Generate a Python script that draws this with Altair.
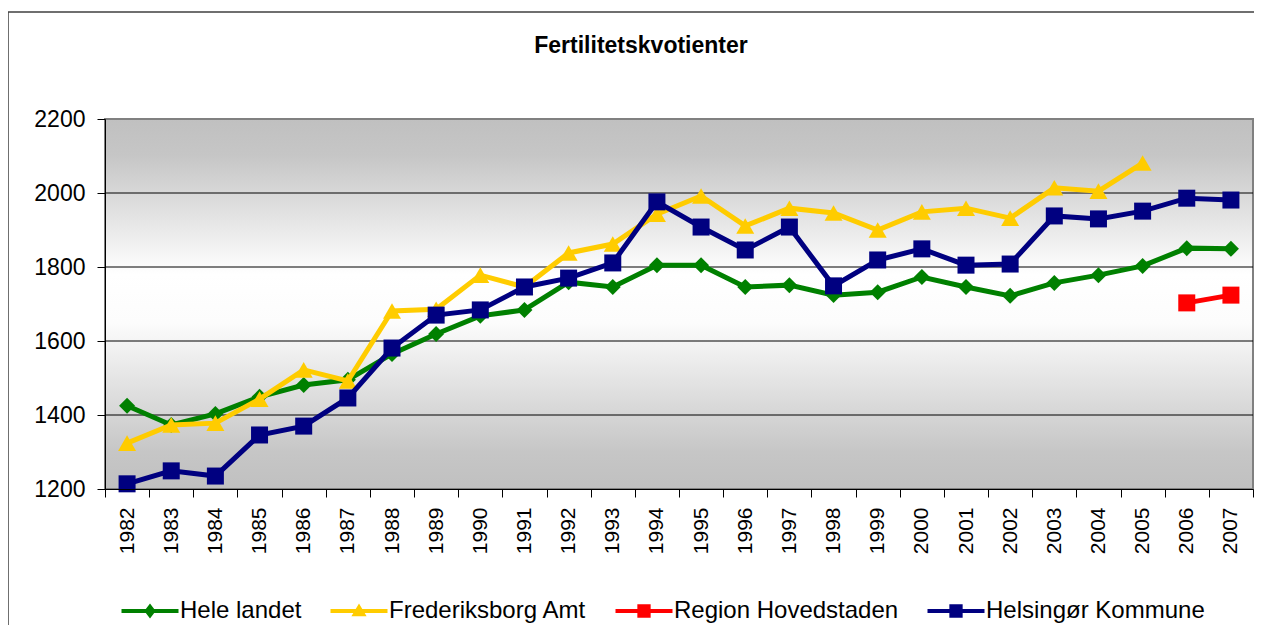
import altair as alt
import pandas as pd

years = ["1982", "1983", "1984", "1985", "1986", "1987", "1988", "1989", "1990",
         "1991", "1992", "1993", "1994", "1995", "1996", "1997", "1998", "1999",
         "2000", "2001", "2002", "2003", "2004", "2005", "2006", "2007"]

hele_landet = [1425, 1373, 1403, 1449, 1481, 1495, 1565, 1619, 1668, 1684, 1759, 1746, 1805,
               1805, 1746, 1751, 1724, 1732, 1773, 1746, 1722, 1757, 1778, 1803, 1851, 1849]
frederiksborg = [1324, 1373, 1378, 1443, 1522, 1492, 1681, 1686, 1778, 1746, 1838, 1862, 1943,
                 1992, 1911, 1959, 1946, 1900, 1949, 1959, 1932, 2014, 2005, 2081, None, None]
region_hovedstaden = [None] * 24 + [1703, 1724]
helsingor = [1214, 1249, 1235, 1346, 1370, 1446, 1581, 1670, 1684, 1746, 1770, 1811, 1976,
             1908, 1846, 1908, 1749, 1819, 1849, 1805, 1808, 1938, 1930, 1951, 1986, 1981]

series_names = ["Hele landet", "Frederiksborg Amt", "Region Hovedstaden", "Helsingør Kommune"]
series_values = [hele_landet, frederiksborg, region_hovedstaden, helsingor]
series_colors = ["#008000", "#FFCC00", "#FF0000", "#000080"]
marker_shapes = ["diamond", "triangle-up", "square", "square"]
marker_sizes = [256, 324, 289, 289]
legend_paths = [
    "M-3,-0.22H3V0.22H-3Z M0,-0.8L0.6,0L0,0.8L-0.6,0Z",
    "M-3,-0.22H3V0.22H-3Z M0,-0.8L0.8,0.55L-0.8,0.55Z",
    "M-3,-0.22H3V0.22H-3Z M-0.7,-0.7H0.7V0.7H-0.7Z",
    "M-3,-0.22H3V0.22H-3Z M-0.7,-0.7H0.7V0.7H-0.7Z",
]
y_ticks = [1200, 1400, 1600, 1800, 2000, 2200]
grid_values = [1400, 1600, 1800, 2000]
title_text = "Fertilitetskvotienter"

rows = []
for name, vals in zip(series_names, series_values):
    for yr, v in zip(years, vals):
        if v is not None:
            rows.append({"series": name, "year": yr, "value": v})
df = pd.DataFrame(rows)

W, H = 1148, 370
FONT = "Liberation Sans"

x_enc = alt.X(
    "year:O",
    sort=years,
    bandPosition=0.5,
    scale=alt.Scale(type="band", domain=years, paddingInner=0, paddingOuter=0),
    axis=alt.Axis(
        title=None, labelAngle=-90, labelFont=FONT, labelFontSize=21, labelColor="black",
        tickBand="extent", tickSize=8, tickColor="black", domainColor="black",
        labelPadding=10, grid=False, zindex=1,
    ),
)
y_enc = alt.Y(
    "value:Q",
    scale=alt.Scale(domain=[1200, 2200], nice=False, zero=False),
    axis=alt.Axis(
        title=None, values=y_ticks, format="d", labelFont=FONT, labelFontSize=23,
        labelColor="black", tickSize=8, tickColor="black", domainColor="black",
        labelPadding=12, grid=False, zindex=1,
    ),
)

one = pd.DataFrame({"a": [0]})

background = alt.Chart(one).mark_rect(
    color=alt.Gradient(
        gradient="linear",
        stops=[
            alt.GradientStop(color="#c0c0c0", offset=0),
            alt.GradientStop(color="#c6c6c6", offset=0.1),
            alt.GradientStop(color="#ffffff", offset=0.42),
            alt.GradientStop(color="#fcfcfc", offset=0.55),
            alt.GradientStop(color="#c6c6c6", offset=0.9),
            alt.GradientStop(color="#c0c0c0", offset=1),
        ],
        x1=0, x2=0, y1=0, y2=1,
    ),
    stroke="#808080",
    strokeWidth=2,
).encode(x=alt.value(0), x2=alt.value(W), y=alt.value(0), y2=alt.value(H))

grid = alt.Chart(pd.DataFrame({"value": grid_values})).mark_rule(
    color="black", strokeWidth=1
).encode(y=y_enc)

layers = [background, grid]
for name, color, shp, sz in zip(series_names, series_colors, marker_shapes, marker_sizes):
    base = alt.Chart(df).transform_filter(alt.datum.series == name)
    layers.append(base.mark_line(color=color, strokeWidth=5).encode(x=x_enc, y=y_enc))
    layers.append(base.mark_point(shape=shp, filled=True, size=sz, color=color, opacity=1)
                  .encode(x=x_enc, y=y_enc))

leg = alt.Legend(
    title=None, orient="none", legendX=33, legendY=480, direction="horizontal",
    symbolSize=361, symbolStrokeWidth=0, symbolOpacity=1,
    labelFont=FONT, labelFontSize=24, labelColor="black", labelLimit=500,
    labelOffset=18, columnPadding=28, padding=0,
)
legend_layer = alt.Chart(df).mark_point(filled=True, opacity=1).encode(
    shape=alt.Shape("series:N", scale=alt.Scale(domain=series_names, range=legend_paths), legend=leg),
    fill=alt.Fill("series:N", scale=alt.Scale(domain=series_names, range=series_colors), legend=leg),
).transform_filter("datum.value < 0")
layers.append(legend_layer)

frame = alt.Chart(one).mark_rect(fillOpacity=0, stroke="#404040", strokeWidth=1.5).encode(
    x=alt.value(-97), x2=alt.value(W + 30), y=alt.value(-107), y2=alt.value(H + 200)
)
layers.append(frame)

chart = alt.layer(*layers).properties(
    width=W, height=H,
    padding={"left": 97, "top": 111, "right": 1, "bottom": 136},
    autosize=alt.AutoSizeParams(type="none"),
    title=alt.TitleParams(
        text=title_text, font=FONT, fontSize=23, fontWeight="bold", color="black",
        anchor="middle", dx=-38, offset=-65, baseline="alphabetic",
    ),
).configure_view(strokeWidth=0)

chart.save("out.html", embed_options={"renderer": "svg", "actions": False})
